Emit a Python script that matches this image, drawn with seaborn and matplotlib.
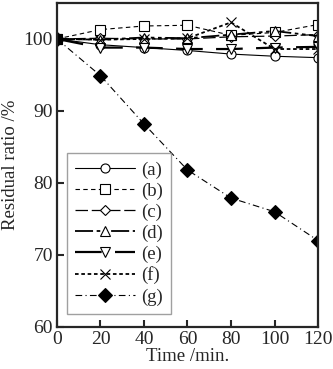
import matplotlib
matplotlib.use("Agg")
import matplotlib.pyplot as plt
import seaborn as sns
import pandas as pd

sns.set_style("ticks")
plt.rcParams['font.family'] = ['Liberation Serif', 'DejaVu Serif']
plt.rcParams['mathtext.fontset'] = 'stix'

time = [0, 20, 40, 60, 80, 100, 120]
labels = ["(a)", "(b)", "(c)", "(d)", "(e)", "(f)", "(g)"]
a = [100, 99.2, 98.8, 98.4, 97.9, 97.6, 97.4]
b = [100, 101.3, 101.8, 101.9, 100.5, 100.9, 102.0]
c = [100, 100.1, 100.0, 100.0, 100.3, 100.4, 100.6]
d = [100, 99.9, 100.2, 100.1, 100.6, 101.1, 100.4]
e = [100, 98.8, 98.8, 98.6, 98.6, 98.8, 98.9]
f = [100, 99.9, 100.0, 100.1, 102.3, 98.6, 98.6]
g = [100, 94.9, 88.2, 81.8, 77.9, 76.0, 72.0]
series = [a, b, c, d, e, f, g]

styles = [
    dict(marker='o', ls='-', lw=0.8, mfc='white', ms=6.5),
    dict(marker='s', ls=(0, (4, 3)), lw=0.8, mfc='white', ms=6.5),
    dict(marker='D', ls=(0, (10, 3)), lw=0.9, mfc='white', ms=5.5),
    dict(marker='^', ls=(0, (10, 2, 2, 2, 2, 2)), lw=1.3, mfc='white', ms=7),
    dict(marker='v', ls=(0, (12, 6)), lw=1.6, mfc='white', ms=7),
    dict(marker='x', ls=(0, (2, 1.5)), lw=1.3, mfc='white', ms=7.5),
    dict(marker='D', ls=(0, (6, 3, 1, 3)), lw=0.8, mfc='black', ms=7.5),
]

fig = plt.figure(figsize=(3.33, 3.69), dpi=100)
ax = fig.add_axes([0.171, 0.114, 0.784, 0.878])

for lab, vals, st in zip(labels, series, styles):
    df = pd.DataFrame({"time": time, "ratio": vals})
    sns.lineplot(data=df, x="time", y="ratio", ax=ax, color='black',
                 marker=st['marker'], linestyle=st['ls'], linewidth=st['lw'],
                 markerfacecolor=st['mfc'], markeredgecolor='black',
                 markeredgewidth=0.8, markersize=st['ms'], label=lab)

ax.set_xlim(0, 120)
ax.set_ylim(60, 105)
ax.set_xticks([0, 20, 40, 60, 80, 100, 120])
ax.set_yticks([60, 70, 80, 90, 100])
ax.tick_params(direction='in', length=5, width=1.5, labelsize=14, top=False, right=False, pad=3)
for s in ax.spines.values():
    s.set_linewidth(1.6)
    s.set_visible(True)
ax.set_xlabel("Time /min.", fontsize=13.5, labelpad=0)
ax.set_ylabel("Residual ratio /%", fontsize=13.5, labelpad=3)

leg = ax.legend(loc='lower left', bbox_to_anchor=(0.038, 0.04), borderaxespad=0,
                fontsize=13.5, numpoints=1, handlelength=3.2, handletextpad=0.3,
                labelspacing=0.2, borderpad=0.45, frameon=True, fancybox=False)
leg.get_frame().set_edgecolor('#888888')
leg.get_frame().set_linewidth(1.0)

fig.savefig("out.png", dpi=100)
